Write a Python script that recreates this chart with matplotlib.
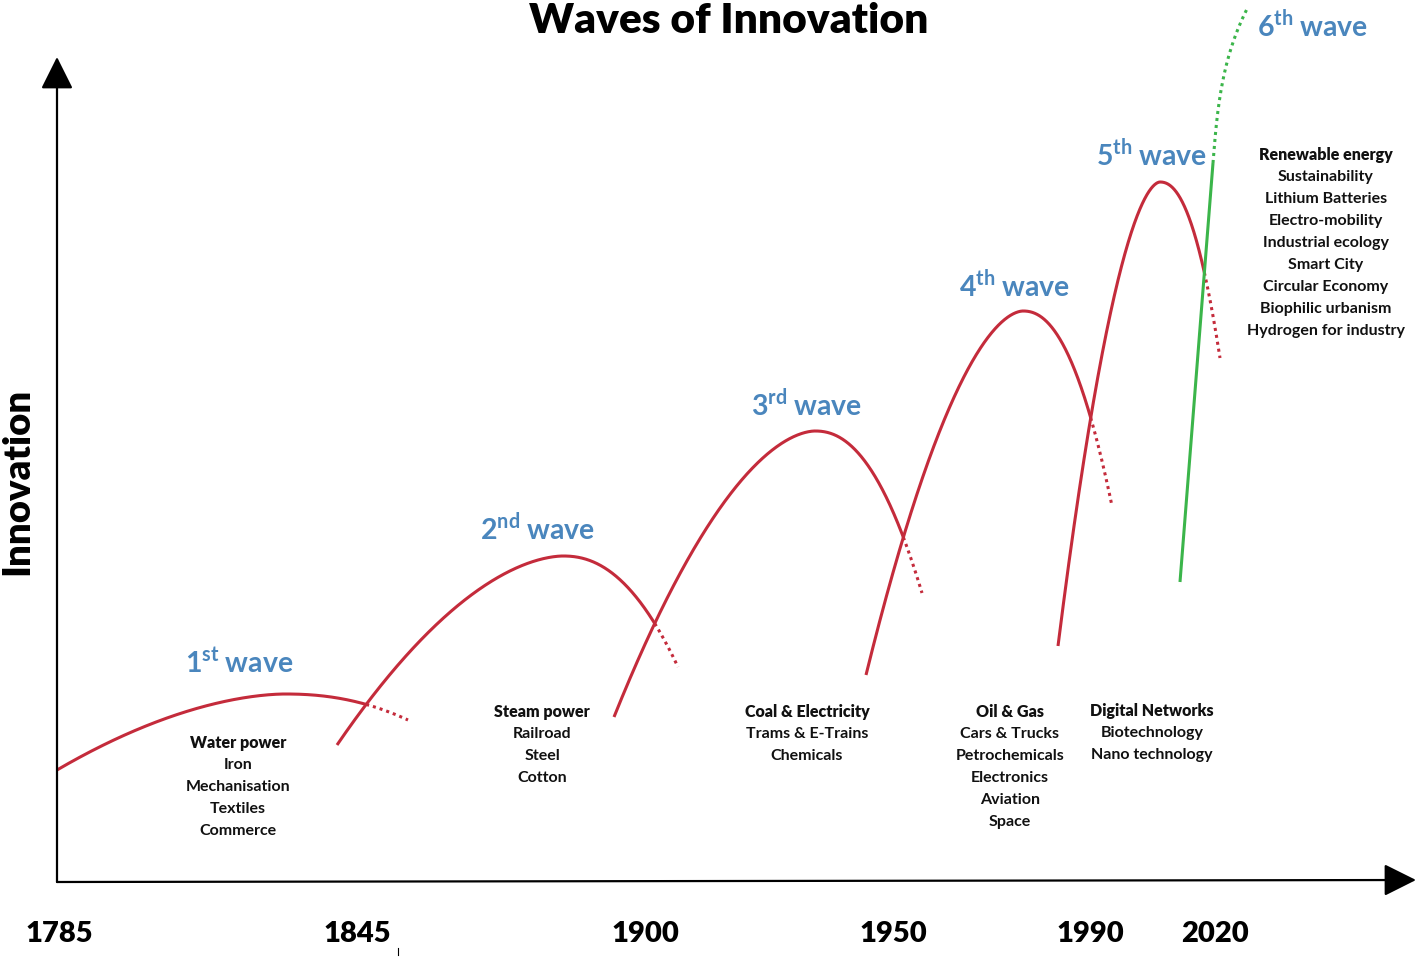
import numpy as np
import matplotlib
matplotlib.use("Agg")
import matplotlib.pyplot as plt

# ---------------- data ----------------
ordinals = ["1", "2", "3", "4", "5", "6"]
suffixes = ["st", "nd", "rd", "th", "th", "th"]

# red waves (x = time axis units, y = innovation level above the baseline)
wave_start_x = [57, 337, 614, 866, 1058]
wave_start_y = [112, 137, 165, 207, 236]
wave_peak_x = [285, 563, 815, 1023, 1160]
wave_peak_y = [188, 326, 451, 571, 700]
wave_end_x = [408, 678, 922, 1112, 1220]
wave_end_y = [162, 215, 289, 376, 524]

# green 6th wave: start, end of solid part, end of dotted part
green_x = [1180, 1213, 1248]
green_y = [300, 719, 875]

year_labels = ["1785", "1845", "1900", "1950", "1990", "2020"]
year_positions = [59, 357, 645, 893, 1090, 1215]

technologies = [
    ["Water power", "Iron", "Mechanisation", "Textiles", "Commerce"],
    ["Steam power", "Railroad", "Steel", "Cotton"],
    ["Coal & Electricity", "Trams & E-Trains", "Chemicals"],
    ["Oil & Gas", "Cars & Trucks", "Petrochemicals", "Electronics",
     "Aviation", "Space"],
    ["Digital Networks", "Biotechnology", "Nano technology"],
    ["Renewable energy", "Sustainability", "Lithium Batteries",
     "Electro-mobility", "Industrial ecology", "Smart City",
     "Circular Economy", "Biophilic urbanism", "Hydrogen for industry"],
]

# ---------------- layout / style ----------------
FONT = "Lato"
plt.rcParams["font.family"] = [FONT, "DejaVu Sans"]
plt.rcParams["mathtext.fontset"] = "custom"
plt.rcParams["mathtext.rm"] = FONT + ":bold"
plt.rcParams["mathtext.bf"] = FONT + ":bold"

RED = "#c42b3b"
GREEN = "#3bb54a"
BLUE = "#4a86bd"
LW = 2.2
DOT = (0, (1, 1.3))
LEFT_EXP = 1.75
RIGHT_EXP = 2.2

W, H = 1418, 959
fig = plt.figure(figsize=(W / 100, H / 100), dpi=100)
ax0, ay0, ax1, ay1 = 57, 882, 1415, 57   # pixel box of the axes
ax = fig.add_axes([ax0 / W, 1 - ay0 / H, (ax1 - ax0) / W, (ay0 - ay1) / H])
ax.set_xlim(ax0, ax1)
ax.set_ylim(0, ay0 - ay1)
for s in ax.spines.values():
    s.set_visible(False)
ax.set_yticks([])
ax.set_xticks(year_positions, year_labels)
ax.tick_params(axis="x", length=0, pad=28, labelsize=21)
for lab in ax.get_xticklabels():
    lab.set_fontweight("heavy")

# axis arrows
arrow_kw = dict(arrowstyle="-|>,head_length=1.0,head_width=0.5",
                mutation_scale=20, lw=1.6, color="black",
                shrinkA=0, shrinkB=0)
ax.annotate("", xy=(57, 825), xytext=(57, 0), arrowprops=arrow_kw,
            annotation_clip=False)
ax.annotate("", xy=(1416, 2), xytext=(57, 0), arrowprops=arrow_kw,
            annotation_clip=False)


def left_side(i, x):
    sx, sy = wave_start_x[i], wave_start_y[i]
    px, py = wave_peak_x[i], wave_peak_y[i]
    t = np.clip((px - x) / (px - sx), 0, None)
    return py - (py - sy) * t ** LEFT_EXP


def right_side(i, x):
    ex, ey = wave_end_x[i], wave_end_y[i]
    px, py = wave_peak_x[i], wave_peak_y[i]
    t = np.clip((x - px) / (ex - px), 0, None)
    return py - (py - ey) * t ** RIGHT_EXP


def green_line(x):
    return green_y[0] + (x - green_x[0]) * (green_y[1] - green_y[0]) / (green_x[1] - green_x[0])


n = len(wave_peak_x)
for i in range(n):
    xl = np.linspace(wave_start_x[i], wave_peak_x[i], 300)
    xr = np.linspace(wave_peak_x[i], wave_end_x[i], 2000)
    yr = right_side(i, xr)
    if i + 1 < n:
        other = np.where(xr >= wave_start_x[i + 1], left_side(i + 1, xr), -np.inf)
    else:
        other = np.where(xr >= green_x[0], green_line(xr), -np.inf)
    idx = np.argmax(yr <= other) if np.any(yr <= other) else len(xr) - 1
    x_solid = np.concatenate([xl, xr[: idx + 1]])
    y_solid = np.concatenate([left_side(i, xl), yr[: idx + 1]])
    ax.plot(x_solid, y_solid, color=RED, lw=LW, solid_capstyle="butt", clip_on=False)
    ax.plot(xr[idx:], yr[idx:], color=RED, lw=LW, ls=DOT, clip_on=False)

# green wave
ax.plot(green_x[:2], green_y[:2], color=GREEN, lw=LW, solid_capstyle="butt", clip_on=False)
s = (green_x[1] - green_x[0]) / (green_y[1] - green_y[0])
dy_end = green_y[2] - green_y[1]
k = (green_x[2] - green_x[1] - s * dy_end) / dy_end ** 3
dyy = np.linspace(0, dy_end, 200)
ax.plot(green_x[1] + s * dyy + k * dyy ** 3, green_y[1] + dyy,
        color=GREEN, lw=LW, ls=DOT, clip_on=False)

# wave labels
label_pos = [(239, 219), (537, 354), (807, 478), (1015, 597), (1152, 728), (1313, 857)]
for (lx, ly), o, sfx in zip(label_pos, ordinals, suffixes):
    ax.text(lx, ly, o + r"$^{\mathrm{" + sfx + r"}}\:$" + "wave", color=BLUE,
            fontsize=20.5, fontweight="bold", ha="center", va="center",
            clip_on=False)

# technology lists
list_pos = [(238, 139), (542, 170), (807, 170), (1010, 170), (1152, 171), (1326, 727)]
LINE = 22
for (tx, ty), items in zip(list_pos, technologies):
    for j, item in enumerate(items):
        ax.text(tx, ty - j * LINE, item, fontsize=11.5,
                fontweight="heavy" if j == 0 else "bold",
                ha="center", va="center", color="#111111", clip_on=False)

# stray tick below 1845
ax.plot([398, 398], [-66, -73], color="black", lw=0.8, clip_on=False)

# titles
ax.text(-0.0295, 0.486, "Innovation", transform=ax.transAxes, rotation=90,
        fontsize=27.5, fontweight="heavy", ha="center", va="center")
fig.text(729 / W, 1 - 21 / H, "Waves of Innovation", fontsize=30.5,
         fontweight="heavy", ha="center", va="center")

fig.savefig("out.png", dpi=100)
